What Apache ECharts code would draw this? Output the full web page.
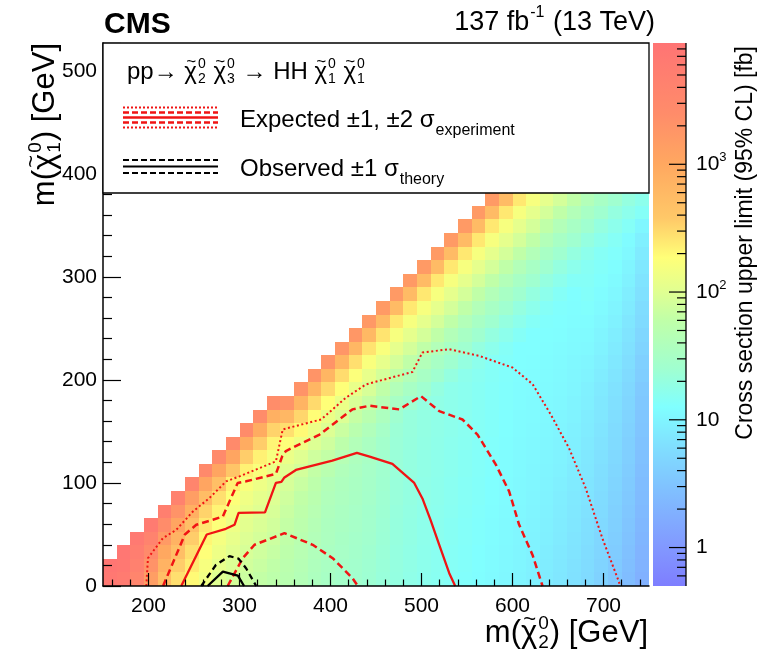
<!DOCTYPE html>
<html>
<head>
<meta charset="utf-8">
<script src="https://cdn.jsdelivr.net/npm/echarts@6/dist/echarts.min.js"></script>
<style>
html,body{margin:0;padding:0;background:#fff}
#chart{width:774px;height:650px}
</style>
</head>
<body>
<div id="chart"></div>
<script>
// ---- binning of the limit map ----
const X_MIN = 150, X_MAX = 750, X_BIN = 15;      // m(chi2) [GeV]
const Y_MIN = 0, Y_MAX = 527, Y_BIN = 13.175;    // m(chi1) [GeV]
const Z_MIN = 0.5, Z_MAX = 8900;                 // colour scale range [fb]

// log10 of the 95% CL cross section upper limit [fb],
// one array per m(chi2) bin, listed from m(chi1) = 0 upwards
const limitLog10ByColumn = [
  [3.85,3.9],
  [3.8,3.85,3.88],
  [3.55,3.65,3.72,3.82],
  [3.15,3.3,3.45,3.6,3.78],
  [2.7,2.85,3.0,3.2,3.4,3.7],
  [2.45,2.55,2.7,2.85,3.05,3.3,3.62],
  [2.3,2.38,2.45,2.55,2.7,2.9,3.15,3.55],
  [2.15,2.2,2.26,2.32,2.4,2.52,2.72,3.05,3.48],
  [2.0,2.06,2.12,2.18,2.25,2.33,2.45,2.7,3.05,3.45],
  [1.92,1.97,2.02,2.07,2.12,2.18,2.25,2.36,2.62,3.05,3.45],
  [1.86,1.9,1.94,1.98,2.03,2.08,2.14,2.22,2.35,2.55,2.95,3.42],
  [1.8,1.84,1.88,1.92,1.96,2.0,2.05,2.12,2.22,2.35,2.55,2.95,3.4],
  [1.75,1.78,1.82,1.86,1.9,1.94,1.98,2.03,2.1,2.2,2.33,2.52,2.9,3.38],
  [1.7,1.72,1.75,1.78,1.81,1.84,1.88,1.93,2.0,2.1,2.25,2.45,2.8,3.3],
  [1.64,1.66,1.68,1.7,1.73,1.76,1.79,1.84,1.91,2.0,2.13,2.3,2.5,2.84,3.3],
  [1.56,1.58,1.6,1.62,1.65,1.68,1.71,1.75,1.8,1.88,1.98,2.11,2.28,2.48,2.82,3.28],
  [1.5,1.52,1.53,1.55,1.56,1.58,1.6,1.63,1.7,1.8,1.88,1.98,2.1,2.27,2.48,2.82,3.28],
  [1.46,1.47,1.49,1.5,1.52,1.53,1.55,1.57,1.6,1.66,1.75,1.85,1.97,2.1,2.26,2.47,2.82,3.26],
  [1.42,1.43,1.45,1.46,1.48,1.49,1.51,1.52,1.54,1.57,1.62,1.71,1.82,1.95,2.08,2.24,2.45,2.8,3.25],
  [1.38,1.39,1.4,1.42,1.43,1.44,1.46,1.47,1.48,1.5,1.53,1.6,1.7,1.82,1.94,2.07,2.22,2.43,2.78,3.22],
  [1.33,1.34,1.35,1.36,1.37,1.38,1.39,1.4,1.41,1.42,1.44,1.48,1.56,1.66,1.78,1.92,2.06,2.22,2.42,2.76,3.2],
  [1.29,1.3,1.3,1.31,1.31,1.32,1.33,1.33,1.34,1.34,1.35,1.36,1.4,1.5,1.62,1.78,1.92,2.05,2.2,2.4,2.75,3.2],
  [1.25,1.26,1.26,1.27,1.27,1.28,1.29,1.29,1.3,1.3,1.31,1.32,1.32,1.4,1.5,1.62,1.78,1.92,2.05,2.2,2.4,2.75,3.2],
  [1.21,1.22,1.22,1.23,1.23,1.24,1.25,1.25,1.26,1.26,1.27,1.28,1.28,1.3,1.4,1.5,1.62,1.78,1.92,2.05,2.2,2.4,2.75,3.2],
  [1.18,1.19,1.19,1.2,1.2,1.21,1.22,1.22,1.23,1.23,1.24,1.25,1.25,1.26,1.3,1.4,1.5,1.62,1.78,1.92,2.05,2.2,2.4,2.75,3.2],
  [1.15,1.16,1.16,1.17,1.17,1.18,1.19,1.19,1.2,1.2,1.21,1.22,1.22,1.23,1.23,1.3,1.4,1.5,1.62,1.78,1.92,2.05,2.2,2.4,2.75,3.2],
  [1.12,1.13,1.13,1.14,1.14,1.15,1.16,1.16,1.17,1.17,1.18,1.19,1.19,1.2,1.2,1.22,1.3,1.4,1.5,1.62,1.78,1.92,2.05,2.2,2.4,2.75,3.2],
  [1.09,1.1,1.1,1.11,1.11,1.12,1.13,1.13,1.14,1.14,1.15,1.16,1.16,1.17,1.17,1.18,1.22,1.3,1.4,1.5,1.62,1.78,1.92,2.05,2.2,2.4,2.75,3.2],
  [1.06,1.07,1.07,1.08,1.08,1.09,1.1,1.1,1.11,1.11,1.12,1.13,1.13,1.14,1.14,1.15,1.16,1.22,1.3,1.4,1.5,1.62,1.78,1.92,2.05,2.2,2.4,2.75,3.2],
  [1.03,1.04,1.04,1.05,1.05,1.06,1.07,1.07,1.08,1.08,1.09,1.1,1.1,1.11,1.11,1.12,1.13,1.15,1.22,1.3,1.4,1.5,1.62,1.78,1.92,2.05,2.2,2.4,2.75],
  [1.0,1.01,1.01,1.02,1.02,1.03,1.04,1.04,1.05,1.05,1.06,1.07,1.07,1.08,1.08,1.09,1.1,1.1,1.15,1.22,1.3,1.4,1.5,1.62,1.78,1.92,2.05,2.2,2.4],
  [0.96,0.97,0.98,0.98,0.99,1.0,1.01,1.02,1.02,1.03,1.04,1.05,1.06,1.06,1.07,1.08,1.09,1.1,1.1,1.15,1.22,1.3,1.4,1.5,1.62,1.78,1.92,2.05,2.2],
  [0.92,0.93,0.94,0.95,0.96,0.97,0.98,0.99,1.0,1.01,1.02,1.03,1.04,1.05,1.06,1.07,1.08,1.09,1.1,1.11,1.15,1.22,1.3,1.4,1.5,1.62,1.78,1.92,2.05],
  [0.87,0.88,0.89,0.91,0.92,0.93,0.94,0.95,0.97,0.98,0.99,1.0,1.01,1.03,1.04,1.05,1.06,1.07,1.09,1.1,1.11,1.15,1.22,1.3,1.4,1.5,1.62,1.78,1.92],
  [0.81,0.82,0.84,0.85,0.87,0.88,0.89,0.91,0.92,0.94,0.95,0.96,0.98,0.99,1.01,1.02,1.03,1.05,1.06,1.08,1.09,1.1,1.15,1.22,1.3,1.4,1.5,1.62,1.78],
  [0.74,0.76,0.77,0.79,0.8,0.82,0.84,0.85,0.87,0.88,0.9,0.92,0.93,0.95,0.96,0.99,1.01,1.04,1.06,1.08,1.11,1.13,1.15,1.17,1.22,1.3,1.4,1.5,1.62],
  [0.65,0.67,0.69,0.7,0.72,0.74,0.76,0.78,0.79,0.81,0.83,0.85,0.87,0.88,0.9,0.93,0.95,0.98,1.0,1.03,1.06,1.08,1.11,1.13,1.16,1.22,1.3,1.4,1.5],
  [0.54,0.56,0.58,0.6,0.62,0.64,0.66,0.68,0.7,0.72,0.74,0.76,0.78,0.8,0.82,0.85,0.88,0.91,0.94,0.97,1.0,1.03,1.06,1.09,1.12,1.16,1.22,1.3,1.4],
  [0.42,0.44,0.46,0.48,0.5,0.53,0.55,0.57,0.59,0.61,0.63,0.65,0.67,0.69,0.71,0.74,0.78,0.81,0.84,0.87,0.91,0.94,0.97,1.0,1.04,1.07,1.15,1.22,1.3],
  [0.28,0.3,0.32,0.34,0.36,0.38,0.4,0.42,0.44,0.46,0.48,0.5,0.52,0.54,0.56,0.6,0.63,0.67,0.7,0.74,0.77,0.81,0.84,0.88,0.91,0.95,1.02,1.15,1.22]
];

// ---- exclusion contours, [m(chi2), m(chi1)] in GeV ----
const expectedLimit = [[236,0],[264,50],[285,55.5],[294.5,59.4],[299,71],[328,71.5],[340,100],[346,101],[349,105],[362,112.6],[402,121.7],[429,129.2],[443,125.5],[468,118.5],[492,100],[501,85],[510,64],[519.5,40],[530.5,12.4],[537,0]];
const expectedOuter1s = [[216,0],[240,50],[252.5,59.4],[270.7,64.3],[281.7,67.5],[298,100],[307.4,101.6],[340,108.8],[347,126],[351,131],[388,147],[424,171.4],[443,175],[475.6,171.4],[499.4,184.3],[519.5,169.7],[545,161.6],[561.5,147],[581.7,117.8],[596.3,91.8],[607.3,59.4],[622,30.2],[633,0]];
const expectedInner1s = [[287,0],[303.6,27],[316.5,40],[349.4,51.3],[380.4,40],[402.4,27],[424.3,7.5],[430,0]];
const expectedOuter2s = [[197.6,0],[199.4,27],[215.8,46.4],[230.5,54.5],[248.8,72.3],[267,85.4],[285.4,101.6],[300,106.4],[340,121],[347.5,152],[389.7,161.6],[417,182.8],[439,195.7],[490,207.7],[501,226.6],[530.5,229.8],[563.4,223.3],[600,212],[622,196],[642,166.5],[662,134],[680.4,95],[698.7,46.4],[717,4],[718,0]];
const observedLimit = [[265,0],[281.7,13.9],[298.2,10],[305,0]];
const observedTheoryOuter = [[258,0],[274,20.4],[289,29],[299,26.5],[307.4,17],[318.3,0]];

// ---- axis ticks ----
const xMajorTicks = [200,300,400,500,600,700];
const xMinorTicks = [160,180,220,240,260,280,320,340,360,380,420,440,460,480,520,540,560,580,620,640,660,680,720,740];
const zMajorTicks = [1,10,100,1000];
const zMinorTicks = [0.6,0.7,0.8,0.9,2,3,4,5,6,7,8,9,20,30,40,50,60,70,80,90,200,300,400,500,600,700,800,900,2000,3000,4000,5000,6000,7000,8000];

// ---- colour palette (log10 of limit -> colour) ----
const paletteStops = [
  [-0.30,'#7e7eff'],[0.0,'#8298ff'],[0.45,'#80c0ff'],[0.8,'#80e0ff'],[1.1,'#80ffff'],
  [1.4,'#a0ffd0'],[1.78,'#c0ffa8'],[2.0,'#e0ff92'],[2.27,'#ffff78'],[2.58,'#ffc868'],
  [3.0,'#ffa860'],[3.4,'#ff8c6a'],[3.95,'#ff7474']
];

const LMIN = Math.log10(Z_MIN), LMAX = Math.log10(Z_MAX);
const FONT = '"Liberation Sans", Arial, Helvetica, sans-serif';
const RED = '#f01414';

function hexToRgb(h) { return [1,3,5].map(i => parseInt(h.slice(i, i + 2), 16)); }
function colorAt(v) {
  if (v <= paletteStops[0][0]) return paletteStops[0][1];
  for (let k = 1; k < paletteStops.length; k++) {
    const [v1, c1] = paletteStops[k];
    if (v <= v1) {
      const [v0, c0] = paletteStops[k - 1];
      const t = (v - v0) / (v1 - v0);
      const a = hexToRgb(c0), b = hexToRgb(c1);
      const m = a.map((x, j) => Math.round(x + (b[j] - x) * t));
      return `rgb(${m[0]},${m[1]},${m[2]})`;
    }
  }
  return paletteStops[paletteStops.length - 1][1];
}

const cells = [];
limitLog10ByColumn.forEach((col, i) => {
  col.forEach((v, r) => cells.push([X_MIN + i * X_BIN, Y_MIN + r * Y_BIN, v]));
});

const colorbarGradient = new echarts.graphic.LinearGradient(0, 1, 0, 0,
  paletteStops.map(([v, c]) => ({ offset: Math.min(1, Math.max(0, (v - LMIN) / (LMAX - LMIN))), color: c })));

const zTickData = zMajorTicks.map(v => [1, Math.log10(v), 1, v])
  .concat(zMinorTicks.map(v => [1, Math.log10(v), 0, v]));

// ---- text with stacked super/subscripts and a tilde accent ----
const measureCtx = document.createElement('canvas').getContext('2d');
function textWidth(text, font) { measureCtx.font = font; return measureCtx.measureText(text).width; }
function scriptedText(parts, size, scriptSize, rise, drop) {
  const font = `${size}px ${FONT}`, sfont = `${scriptSize}px ${FONT}`;
  const tfont = `${Math.round(size * 0.72)}px ${FONT}`;
  const children = [];
  let x = 0;
  const txt = (text, px, py, f, align) => ({ type: 'text', x: px, y: py, z: 102,
    style: { text, font: f, fill: '#000', align: align || 'left', verticalAlign: 'middle' } });
  for (const p of parts) {
    if (typeof p === 'string') {
      children.push(txt(p, x, 0, font));
      x += textWidth(p, font);
    } else {
      if (p.base) {
        const w0 = textWidth(p.base, font);
        children.push(txt(p.base, x, 0, font));
        if (p.tilde) children.push(txt('~', x + w0 / 2 + 0.5, -size * 0.42, tfont, 'center'));
        x += w0;
      }
      let w = 0;
      if (p.sup) { children.push(txt(p.sup, x + 1, -rise, sfont)); w = Math.max(w, textWidth(p.sup, sfont)); }
      if (p.sub) { children.push(txt(p.sub, x + 1, drop, sfont)); w = Math.max(w, textWidth(p.sub, sfont)); }
      x += w + 2;
    }
  }
  return { children, width: x };
}

const chi = (sub) => ({ base: '\u03C7', tilde: true, sup: '0', sub });
const processText = scriptedText(['pp\u2192 ', chi('2'), ' ', chi('3'), ' \u2192 HH ', chi('1'), ' ', chi('1')], 24, 14, 8, 7);
const expText = scriptedText(['Expected \u00B11, \u00B12 ', { base: '\u03C3', sub: 'experiment' }], 24, 16, 0, 11);
const obsText = scriptedText(['Observed \u00B11 ', { base: '\u03C3', sub: 'theory' }], 24, 16, 0, 11);
const lumiText = scriptedText(['137 fb', { sup: '-1' }, ' (13 TeV)'], 27, 16, 10, 0);
const xTitle = scriptedText(['m(', chi('2'), ') [GeV]'], 31, 19, 9, 10);
const yTitle = scriptedText(['m(', chi('1'), ') [GeV]'], 31, 19, 9, 10);
const zTitle = scriptedText(['Cross section upper limit (95% CL) [fb]'], 23, 14, 0, 0);

function legendLine(x1, x2, y, color, dash, width) {
  return { type: 'line', shape: { x1, y1: y, x2, y2: y },
    style: { stroke: color, lineWidth: width, lineDash: dash }, z: 101 };
}

const chart = echarts.init(document.getElementById('chart'));
const axisLineStyle = { color: '#000', width: 1.5 };
const tickStyle = { color: '#000', width: 1.2 };

chart.setOption({
  animation: false,
  backgroundColor: '#fff',
  grid: [
    { left: 103, top: 43, width: 546, height: 543 },
    { left: 653, top: 43, width: 33, height: 543 }
  ],
  xAxis: [
    { gridIndex: 0, type: 'value', min: X_MIN, max: X_MAX, position: 'bottom', z: 5,
      axisLine: { show: true, onZero: false, lineStyle: axisLineStyle },
      axisTick: { show: true, inside: true, length: 13, customValues: xMajorTicks, lineStyle: tickStyle },
      axisLabel: { customValues: xMajorTicks, fontSize: 21, color: '#000', fontFamily: FONT, margin: 10 },
      splitLine: { show: false } },
    { gridIndex: 0, type: 'value', min: X_MIN, max: X_MAX, position: 'bottom', z: 5,
      axisLine: { show: false },
      axisTick: { show: true, inside: true, length: 6.5, customValues: xMinorTicks, lineStyle: tickStyle },
      axisLabel: { show: false }, splitLine: { show: false } },
    { gridIndex: 1, type: 'value', min: 0, max: 1, show: false }
  ],
  yAxis: [
    { gridIndex: 0, type: 'value', min: Y_MIN, max: Y_MAX, interval: 100, z: 5,
      axisLine: { show: true, onZero: false, lineStyle: axisLineStyle },
      axisTick: { show: true, inside: true, length: 18, lineStyle: tickStyle },
      minorTick: { show: true, splitNumber: 5, length: 9, lineStyle: tickStyle },
      axisLabel: { fontSize: 21, color: '#000', fontFamily: FONT, margin: 6, showMaxLabel: false },
      splitLine: { show: false }, minorSplitLine: { show: false } },
    { gridIndex: 1, type: 'value', min: LMIN, max: LMAX, show: false }
  ],
  series: [
    { type: 'custom', name: 'limit map', xAxisIndex: 0, yAxisIndex: 0, data: cells, z: 1, clip: true,
      encode: { x: 0, y: 1 },
      renderItem(params, api) {
        const x0 = api.value(0), y0 = api.value(1), v = api.value(2);
        const a = api.coord([x0, y0]), b = api.coord([x0 + X_BIN, y0 + Y_BIN]);
        const xl = Math.round(a[0]), xr = Math.round(b[0]);
        const yt = Math.round(b[1]), yb = Math.round(a[1]);
        return { type: 'rect', shape: { x: xl, y: yt, width: xr - xl, height: yb - yt },
          style: { fill: colorAt(v) } };
      } },
    { type: 'line', data: expectedOuter2s, symbol: 'none', z: 3, clip: true,
      lineStyle: { color: RED, width: 2, type: [2, 2.6] } },
    { type: 'line', data: expectedOuter1s, symbol: 'none', z: 3, clip: true,
      lineStyle: { color: RED, width: 2.5, type: [7, 4] } },
    { type: 'line', data: expectedInner1s, symbol: 'none', z: 3, clip: true,
      lineStyle: { color: RED, width: 2.5, type: [7, 4] } },
    { type: 'line', data: expectedLimit, symbol: 'none', z: 3, clip: true,
      lineStyle: { color: RED, width: 2.3, type: 'solid' } },
    { type: 'line', data: observedTheoryOuter, symbol: 'none', z: 3, clip: true,
      lineStyle: { color: '#000', width: 2.3, type: [6, 4] } },
    { type: 'line', data: observedLimit, symbol: 'none', z: 3, clip: true,
      lineStyle: { color: '#000', width: 2.3, type: 'solid' } },
    { type: 'custom', name: 'colour bar', xAxisIndex: 2, yAxisIndex: 1, data: [[0, LMIN, 1, LMAX]], z: 2, clip: false,
      renderItem(params, api) {
        const a = api.coord([api.value(0), api.value(1)]), b = api.coord([api.value(2), api.value(3)]);
        return { type: 'group', children: [
          { type: 'rect', shape: { x: a[0], y: b[1], width: b[0] - a[0], height: a[1] - b[1] },
            style: { fill: colorbarGradient } },
          { type: 'line', shape: { x1: b[0], y1: b[1], x2: b[0], y2: a[1] },
            style: { stroke: '#000', lineWidth: 1.3 } }
        ] };
      } },
    { type: 'custom', name: 'colour bar ticks', xAxisIndex: 2, yAxisIndex: 1, data: zTickData, z: 3, clip: false,
      renderItem(params, api) {
        const p = api.coord([api.value(0), api.value(1)]);
        const major = api.value(2) === 1, v = api.value(3);
        const len = major ? 17 : 9;
        const children = [{ type: 'line', shape: { x1: p[0] - len, y1: p[1], x2: p[0], y2: p[1] },
          style: { stroke: '#000', lineWidth: 1.2 } }];
        if (major) {
          const exp = Math.round(Math.log10(v));
          const label = v >= 100 ? `10{s|${exp}}` : String(v);
          children.push({ type: 'text', x: p[0] + 10, y: p[1],
            style: { text: label, font: `21px ${FONT}`, fill: '#000', align: 'left', verticalAlign: 'middle',
              lineHeight: 26, rich: { s: { fontSize: 13, lineHeight: 12, verticalAlign: 'top', fontFamily: FONT } } } });
        }
        return { type: 'group', children };
      } }
  ],
  graphic: [
    { type: 'rect', shape: { x: 103, y: 43, width: 546, height: 150 }, z: 100,
      style: { fill: '#fff', stroke: '#000', lineWidth: 1.3 } },
    { type: 'group', x: 127, y: 72, z: 101, children: processText.children },
    legendLine(123, 218, 107.5, RED, [2, 2], 2),
    legendLine(123, 218, 112.5, RED, [6, 3], 2.3),
    legendLine(123, 218, 117.5, RED, null, 2.3),
    legendLine(123, 218, 122.5, RED, [6, 3], 2.3),
    legendLine(123, 218, 127.5, RED, [2, 2], 2),
    legendLine(123, 218, 160, '#000', [6, 3], 2),
    legendLine(123, 218, 166.5, '#000', null, 2),
    legendLine(123, 218, 173, '#000', [6, 3], 2),
    { type: 'group', x: 240, y: 120, z: 101, children: expText.children },
    { type: 'group', x: 240, y: 169, z: 101, children: obsText.children },
    { type: 'text', x: 104, y: 25, z: 101,
      style: { text: 'CMS', font: `bold 30px ${FONT}`, fill: '#000', align: 'left', verticalAlign: 'middle' } },
    { type: 'group', x: 655 - lumiText.width, y: 23, z: 101, children: lumiText.children },
    { type: 'group', x: 648 - xTitle.width, y: 633, z: 101, children: xTitle.children },
    { type: 'group', x: 45, y: 43 + yTitle.width, rotation: Math.PI / 2, z: 101, children: yTitle.children },
    { type: 'group', x: 746, y: 46 + zTitle.width, rotation: Math.PI / 2, z: 101, children: zTitle.children }
  ]
});
</script>
</body>
</html>
